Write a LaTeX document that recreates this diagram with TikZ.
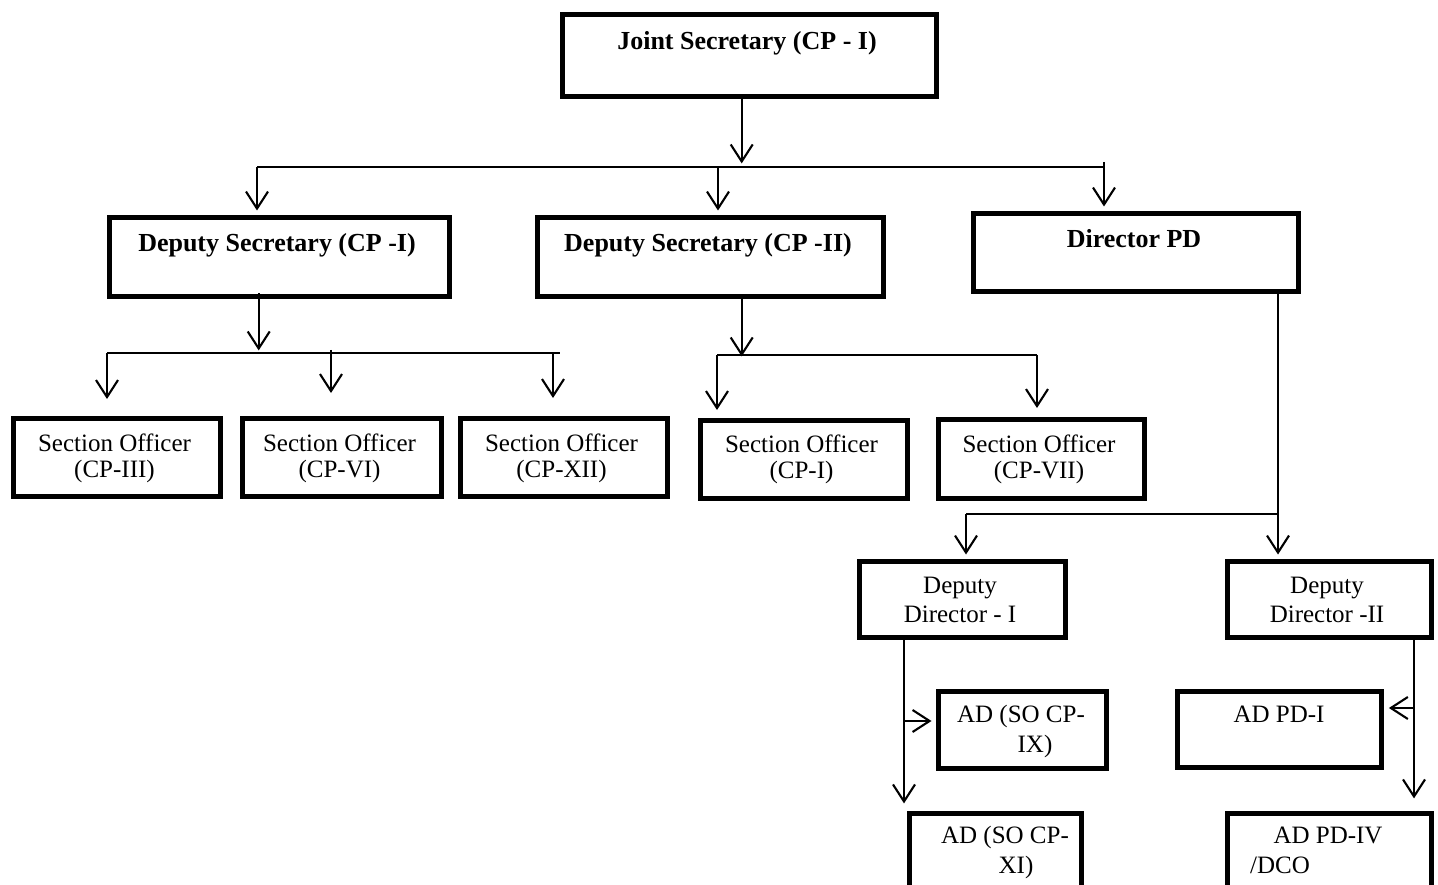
\documentclass[tikz,border=0pt]{standalone}
\usepackage{fontspec}
\setmainfont{Liberation Serif}
\usetikzlibrary{arrows.meta}
\begin{document}
\begin{tikzpicture}[x=1pt,y=-1pt,
  box/.style={draw=black, line width=5.4pt, inner sep=0pt, anchor=north west},
  link/.style={line width=2.1pt},
  arr/.style={link, -{Straight Barb[length=17pt,width=22pt]}},
  into/.style={arr, shorten >=4.5pt},
  head/.style={anchor=base, inner sep=0pt, font=\bfseries\fontsize{26}{30}\selectfont},
  body/.style={anchor=base, inner sep=0pt, font=\fontsize{25}{26}\selectfont},
]
\clip (0,0) rectangle (1438,885);
\fill[white] (0,0) rectangle (1438,885);

% ---- boxes ----
\node[box, minimum width=374pt, minimum height=82pt] (js)  at (560,12) {};
\node[box, minimum width=340pt, minimum height=79pt] (ds1) at (107,215) {};
\node[box, minimum width=346pt, minimum height=79pt] (ds2) at (535,215) {};
\node[box, minimum width=325pt, minimum height=78pt] (dpd) at (971,211) {};
\node[box, minimum width=207pt, minimum height=78pt] (so1) at (11,416) {};
\node[box, minimum width=199pt, minimum height=78pt] (so2) at (240,416) {};
\node[box, minimum width=207pt, minimum height=78pt] (so3) at (458,416) {};
\node[box, minimum width=207pt, minimum height=78pt] (so4) at (698,418) {};
\node[box, minimum width=206pt, minimum height=79pt] (so5) at (936,417) {};
\node[box, minimum width=206pt, minimum height=76pt] (dd1) at (857,559) {};
\node[box, minimum width=204pt, minimum height=76pt] (dd2) at (1225,559) {};
\node[box, minimum width=168pt, minimum height=77pt] (adix)  at (936,689) {};
\node[box, minimum width=204pt, minimum height=76pt] (adpd1) at (1175,689) {};
\node[box, minimum width=172pt, minimum height=100pt] (adxi)  at (907,811) {};
\node[box, minimum width=204pt, minimum height=100pt] (adpd4) at (1225,811) {};

% ---- labels ----
\node[head] (js-t)  at (747,50)  {Joint Secretary (CP - I)};
\node[head] (ds1-t) at (277,252) {Deputy Secretary (CP -I)};
\node[head] (ds2-t) at (708,252) {Deputy Secretary (CP -II)};
\node[head] (dpd-t) at (1134,248) {Director PD};
\node[body] (so1-a) at (114.5,451) {Section Officer};
\node[body] (so1-b) at (114.5,477) {(CP-III)};
\node[body] (so2-a) at (339.5,451) {Section Officer};
\node[body] (so2-b) at (339.5,477) {(CP-VI)};
\node[body] (so3-a) at (561.5,451) {Section Officer};
\node[body] (so3-b) at (561.5,477) {(CP-XII)};
\node[body] (so4-a) at (801.5,452) {Section Officer};
\node[body] (so4-b) at (801.5,478) {(CP-I)};
\node[body] (so5-a) at (1039,452) {Section Officer};
\node[body] (so5-b) at (1039,478) {(CP-VII)};
\node[body] (dd1-a) at (960,593) {Deputy};
\node[body] (dd1-b) at (960,622) {Director - I};
\node[body] (dd2-a) at (1327,593) {Deputy};
\node[body] (dd2-b) at (1327,622) {Director -II};
\node[body] (adix-a) at (1021,722) {AD (SO CP-};
\node[body] (adix-b) at (1035,752) {IX)};
\node[body] (adpd1-t) at (1279,722) {AD PD-I};
\node[body] (adxi-a) at (1005,843) {AD (SO CP-};
\node[body] (adxi-b) at (1016,873) {XI)};
\node[body] (adpd4-a) at (1328,843) {AD PD-IV};
\node[body, anchor=base west] (adpd4-b) at (1250,873) {/DCO};

% ---- connectors ----
\coordinate (b1l) at (257,167);
\coordinate (b1m) at (718,167);
\coordinate (b1r) at (1104,167);
\draw[arr] ([xshift=-8pt]js.south) -- ++(0,64);
\draw[link] (b1l) -- (b1r);
\draw[into] (b1l) -- (b1l |- ds1.north);
\draw[into] (b1m) -- (b1m |- ds2.north);
\draw[into] ([yshift=5pt]b1r) -- (b1r |- dpd.north);

\coordinate (b2l) at (107,353);
\coordinate (b2m) at (331,353);
\coordinate (b2r) at (553,353);
\draw[arr] ([xshift=-21pt,yshift=6pt]ds1.south) -- ++(0,57);
\draw[link] (b2l) -- ++(453,0);
\draw[arr] (b2l) -- ++(0,46);
\draw[arr] ([yshift=3pt]b2m) -- ++(0,43);
\draw[arr] (b2r) -- ++(0,45);

\coordinate (b3l) at (717,355);
\coordinate (b3r) at (1037,355);
\draw[arr] ([xshift=31pt]ds2.south) -- ++(0,57);
\draw[link] (b3l) -- (b3r);
\draw[arr] (b3l) -- ++(0,55);
\draw[arr] (b3r) -- ++(0,53);

\coordinate (b4l) at (966,514);
\coordinate (b4r) at (1278,514);
\draw[link] (dpd.south -| b4r) -- (b4r);
\draw[link] (b4l) -- (b4r);
\draw[into] (b4l) -- (b4l |- dd1.north);
\draw[into] (b4r) -- (b4r |- dd2.north);

\coordinate (j1) at (904,721);
\coordinate (j2) at (1414,708);
\draw[arr] (dd1.south -| j1) -- ++(0,163);
\draw[into] (j1) -- (j1 -| adix.west);
\draw[arr] (dd2.south -| j2) -- ++(0,158);
\draw[into] (j2) -- (j2 -| adpd1.east);
\end{tikzpicture}
\end{document}
